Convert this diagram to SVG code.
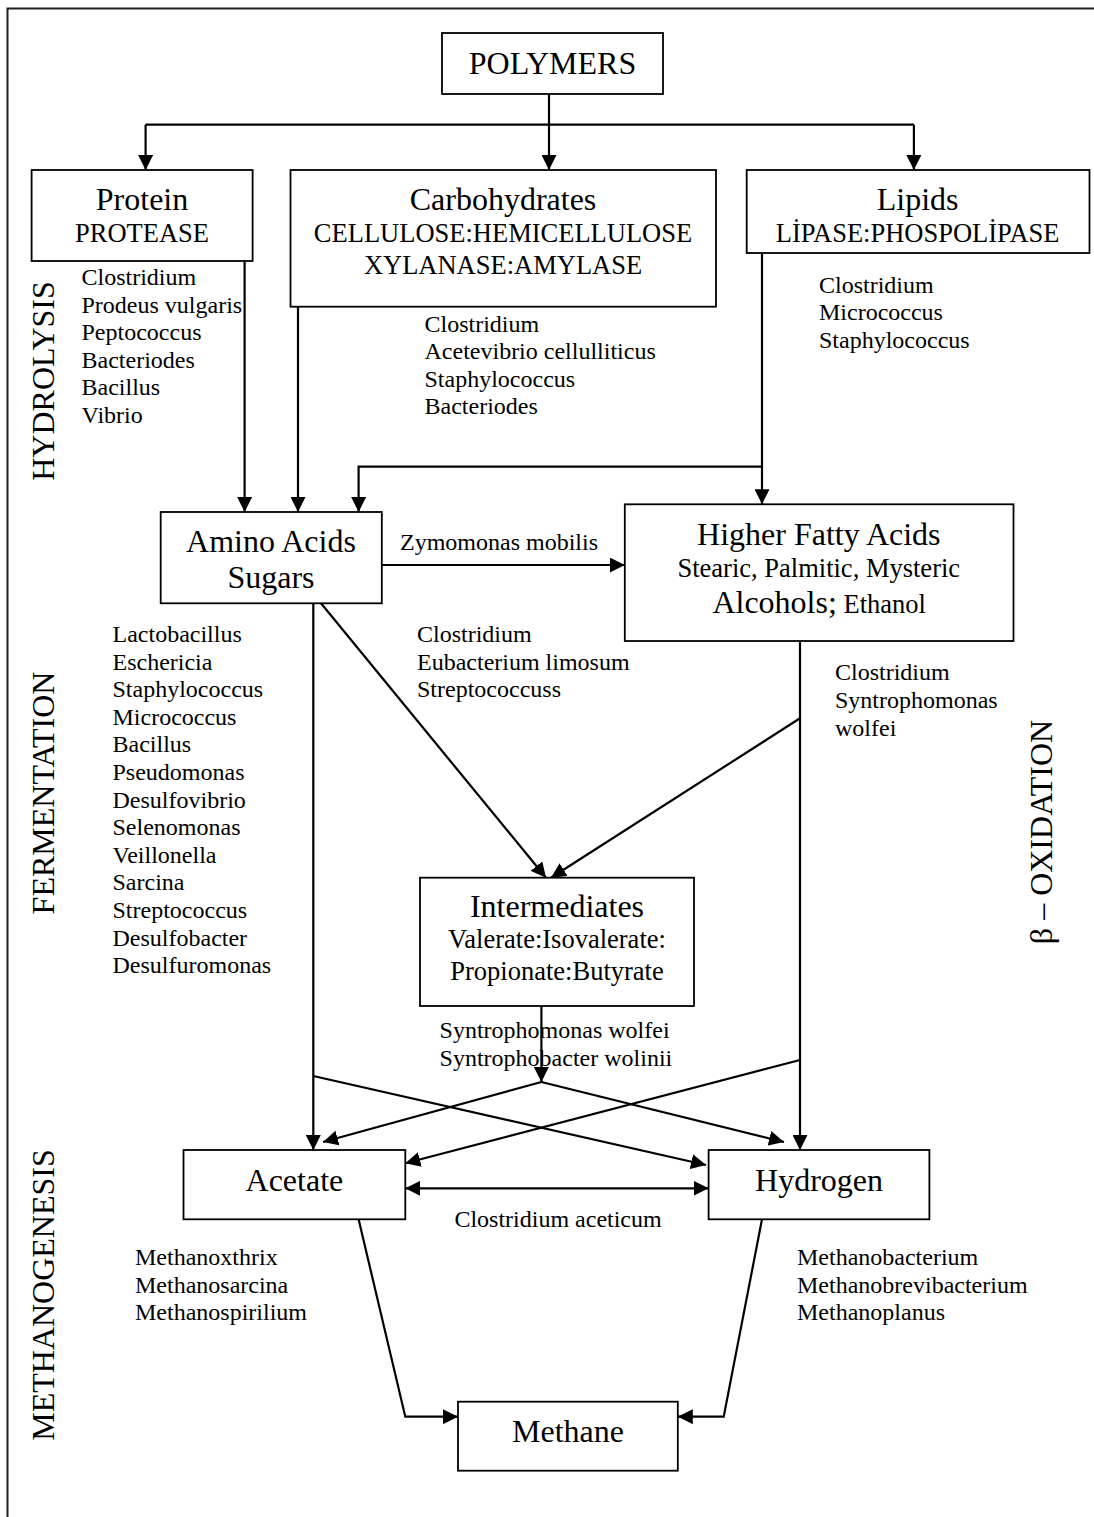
<svg xmlns="http://www.w3.org/2000/svg" width="1094" height="1517" viewBox="0 0 1094 1517">
<style>
text{font-family:"Liberation Serif","Times New Roman",serif;fill:#000}
.b{fill:#fff;stroke:#000;stroke-width:1.8}
.L{font-size:32px;text-anchor:middle}
.M{font-size:26.5px;text-anchor:middle}
.s{font-size:24px}
.c{fill:none;stroke:#000;stroke-width:2.2}
.a{marker-end:url(#ah)}
.r{font-size:32px;text-anchor:middle}
</style>
<defs>
<marker id="ah" viewBox="0 0 15 15" refX="15" refY="7.5" markerWidth="15" markerHeight="15" markerUnits="userSpaceOnUse" orient="auto-start-reverse"><path d="M0,0 L15,7.5 L0,15 z" fill="#000"/></marker>
</defs>
<rect width="1094" height="1517" fill="#fff"/>
<path d="M7.5,1517 V8.5 H1094" fill="none" stroke="#222" stroke-width="2"/>

<g id="phase-labels">
<text class="r" transform="translate(54,381) rotate(-90)">HYDROLYSIS</text>
<text class="r" transform="translate(54,793) rotate(-90)">FERMENTATION</text>
<text class="r" transform="translate(54,1295) rotate(-90)">METHANOGENESIS</text>
<text class="r" transform="translate(1052,832) rotate(-90)">β – OXIDATION</text>
</g>

<g id="connectors">
<path class="c" d="M549,94 V124.7"/>
<path class="c" d="M145.6,124.7 H913.9"/>
<path class="c a" d="M145.6,124.7 V170"/>
<path class="c a" d="M549,124.7 V170"/>
<path class="c a" d="M913.9,124.7 V170"/>
<path class="c a" d="M244.6,261 V512"/>
<path class="c a" d="M298,306.7 V512"/>
<path class="c a" d="M762,253 V504.3"/>
<path class="c a" d="M762,466.7 H358.6 V512"/>
<path class="c a" d="M381.8,565 H624.8"/>
<path class="c a" d="M313.3,603.3 V1150"/>
<path class="c a" d="M321,603.3 L546,877.7"/>
<path class="c a" d="M800,641 V1150"/>
<path class="c a" d="M800,718.3 L551,877.7"/>
<path class="c a" d="M541.4,1006 V1082"/>
<path class="c a" d="M541.4,1082 L323,1142"/>
<path class="c a" d="M541.4,1082 L784,1142"/>
<path class="c a" d="M313.3,1076 L706,1165"/>
<path class="c a" d="M800,1060 L405.3,1163.3"/>
<path class="c a" d="M405.3,1188.3 H708.6" marker-start="url(#ah)"/>
<path class="c a" d="M358.6,1219.3 L405.3,1416.7 H458"/>
<path class="c a" d="M762,1219.3 L723.7,1416.7 H677.8"/>
</g>

<g id="polymers">
<rect class="b" x="442" y="33" width="221" height="61"/>
<text class="L" x="552.5" y="74">POLYMERS</text>
</g>

<g id="protein">
<rect class="b" x="31.6" y="170" width="221" height="91"/>
<text class="L" x="142" y="210">Protein</text>
<text class="M" x="142" y="242">PROTEASE</text>
</g>
<g id="protein-bacteria">
<text class="s" x="81.5" y="285">Clostridium</text>
<text class="s" x="81.5" y="312.5">Prodeus vulgaris</text>
<text class="s" x="81.5" y="340">Peptococcus</text>
<text class="s" x="81.5" y="367.5">Bacteriodes</text>
<text class="s" x="81.5" y="395">Bacillus</text>
<text class="s" x="81.5" y="422.5">Vibrio</text>
</g>

<g id="carbohydrates">
<rect class="b" x="290.5" y="170" width="425.5" height="136.7"/>
<text class="L" x="503" y="210">Carbohydrates</text>
<text class="M" x="503" y="242">CELLULOSE:HEMICELLULOSE</text>
<text class="M" x="503" y="273.5">XYLANASE:AMYLASE</text>
</g>
<g id="carbohydrate-bacteria">
<text class="s" x="424.5" y="331.5">Clostridium</text>
<text class="s" x="424.5" y="359">Acetevibrio cellulliticus</text>
<text class="s" x="424.5" y="386.5">Staphylococcus</text>
<text class="s" x="424.5" y="414">Bacteriodes</text>
</g>

<g id="lipids">
<rect class="b" x="746.7" y="170" width="342.8" height="83"/>
<text class="L" x="917.6" y="210">Lipids</text>
<text class="M" x="917.6" y="242">LİPASE:PHOSPOLİPASE</text>
</g>
<g id="lipid-bacteria">
<text class="s" x="819" y="292.5">Clostridium</text>
<text class="s" x="819" y="320">Micrococcus</text>
<text class="s" x="819" y="347.5">Staphylococcus</text>
</g>

<g id="amino-acids-sugars">
<rect class="b" x="160.7" y="512" width="221.1" height="91.3"/>
<text class="L" x="271" y="551.7">Amino Acids</text>
<text class="L" x="271" y="588">Sugars</text>
</g>
<text class="s" x="400" y="550">Zymomonas mobilis</text>

<g id="higher-fatty-acids">
<rect class="b" x="624.8" y="504.3" width="388.7" height="136.7"/>
<text class="L" x="818.8" y="545">Higher Fatty Acids</text>
<text class="M" x="818.8" y="576.7">Stearic, Palmitic, Mysteric</text>
<text x="712.4" y="612.7" style="font-size:32px">Alcohols;<tspan style="font-size:26.5px"> Ethanol</tspan></text>
</g>

<g id="fermentation-bacteria">
<text class="s" x="112.5" y="642">Lactobacillus</text>
<text class="s" x="112.5" y="669.6">Eschericia</text>
<text class="s" x="112.5" y="697.2">Staphylococcus</text>
<text class="s" x="112.5" y="724.8">Micrococcus</text>
<text class="s" x="112.5" y="752.4">Bacillus</text>
<text class="s" x="112.5" y="780">Pseudomonas</text>
<text class="s" x="112.5" y="807.6">Desulfovibrio</text>
<text class="s" x="112.5" y="835.2">Selenomonas</text>
<text class="s" x="112.5" y="862.8">Veillonella</text>
<text class="s" x="112.5" y="890.4">Sarcina</text>
<text class="s" x="112.5" y="918">Streptococcus</text>
<text class="s" x="112.5" y="945.6">Desulfobacter</text>
<text class="s" x="112.5" y="973.2">Desulfuromonas</text>
</g>
<g id="acidogen-bacteria">
<text class="s" x="417" y="642">Clostridium</text>
<text class="s" x="417" y="669.6">Eubacterium limosum</text>
<text class="s" x="417" y="697.2">Streptococcuss</text>
</g>
<g id="oxidation-bacteria">
<text class="s" x="835" y="680">Clostridium</text>
<text class="s" x="835" y="708">Syntrophomonas</text>
<text class="s" x="835" y="736">wolfei</text>
</g>

<g id="intermediates">
<rect class="b" x="420" y="877.7" width="274" height="128.3"/>
<text class="L" x="557" y="916.7">Intermediates</text>
<text class="M" x="557" y="947.7">Valerate:Isovalerate:</text>
<text class="M" x="557" y="980">Propionate:Butyrate</text>
</g>
<g id="syntroph-bacteria">
<text class="s" x="439.6" y="1038">Syntrophomonas wolfei</text>
<text class="s" x="439.6" y="1065.5">Syntrophobacter wolinii</text>
</g>

<g id="acetate">
<rect class="b" x="183.5" y="1150" width="221.8" height="69.3"/>
<text class="L" x="294.4" y="1190.7">Acetate</text>
</g>
<g id="hydrogen">
<rect class="b" x="708.6" y="1150" width="220.8" height="69.3"/>
<text class="L" x="819" y="1190.7">Hydrogen</text>
</g>
<text class="s" x="454.4" y="1226.7">Clostridium aceticum</text>

<g id="acetoclastic-bacteria">
<text class="s" x="135" y="1265">Methanoxthrix</text>
<text class="s" x="135" y="1292.6">Methanosarcina</text>
<text class="s" x="135" y="1320.2">Methanospirilium</text>
</g>
<g id="hydrogenotrophic-bacteria">
<text class="s" x="797" y="1265">Methanobacterium</text>
<text class="s" x="797" y="1292.6">Methanobrevibacterium</text>
<text class="s" x="797" y="1320.2">Methanoplanus</text>
</g>

<g id="methane">
<rect class="b" x="458" y="1401.7" width="219.8" height="69"/>
<text class="L" x="568" y="1441.7">Methane</text>
</g>
</svg>
